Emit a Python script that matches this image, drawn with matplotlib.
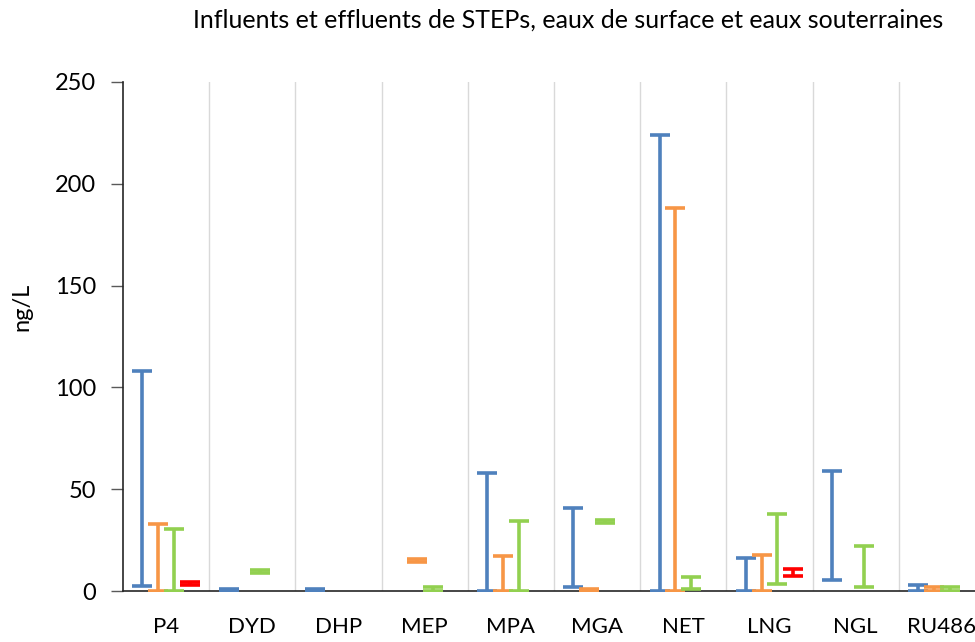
import numpy as np
import matplotlib.pyplot as plt

compounds = ['P4', 'DYD', 'DHP', 'MEP', 'MPA', 'MGA', 'NET', 'LNG', 'NGL', 'RU486']
nan = np.nan

# min / max per compound (ng/L)
infl_lo = [2.5, 0, 0, nan, 0, 1.8, 0, 0, 5.5, 0]
infl_hi = [108, 1, 1, nan, 58, 41, 224, 16, 59, 2.8]
effl_lo = [0, nan, nan, 14.2, 0, 0, 0, 0, nan, 0]
effl_hi = [33, nan, nan, 15.8, 17, 1, 188, 17.8, nan, 1.8]
surf_lo = [0, 8.8, nan, 0, 0, 33.2, 1.2, 3.3, 1.8, 0]
surf_hi = [30.5, 10.2, nan, 2, 34.2, 34.8, 7, 38, 22.3, 1.8]
gw_lo = [3, nan, nan, nan, nan, nan, nan, 7.6, nan, nan]
gw_hi = [4.2, nan, nan, nan, nan, nan, nan, 10.6, nan, nan]

series = [
    (infl_lo, infl_hi, '#4F81BD', -0.275),
    (effl_lo, effl_hi, '#F79646', -0.092),
    (surf_lo, surf_hi, '#92D050', 0.092),
    (gw_lo, gw_hi, '#FF0000', 0.275),
]

plt.rcParams['font.family'] = ['Lato', 'DejaVu Sans']
fig = plt.figure(figsize=(9.75, 6.42), dpi=100)
ax = fig.add_axes([123 / 975, 1 - 591 / 642, 862 / 975, 509 / 642])

x = np.arange(len(compounds))
for lo, hi, color, off in series:
    lo = np.array(lo, dtype=float)
    hi = np.array(hi, dtype=float)
    mid = (lo + hi) / 2
    half = (hi - lo) / 2
    ax.errorbar(x + off, mid, yerr=half, fmt='none', ecolor=color,
                elinewidth=2.6, capsize=7, capthick=2.6, zorder=3)

ax.set_xlim(-0.5, len(compounds) - 0.5)
ax.set_ylim(0, 250)
ax.set_yticks(np.arange(0, 251, 50))
ax.set_xticks(x)
ax.set_xticklabels(compounds, fontsize=16)
ax.set_xticks(np.arange(0.5, len(compounds), 1), minor=True)
ax.grid(True, which='minor', axis='x', color='#d9d9d9', linewidth=1)
ax.tick_params(axis='x', which='both', length=0, pad=19)
ax.tick_params(axis='y', labelsize=17, length=9, width=1, color='#595959', pad=10.5)
for s in ['top', 'right']:
    ax.spines[s].set_visible(False)
ax.spines['left'].set_color('#262626')
ax.spines['bottom'].set_color('#262626')
ax.spines['left'].set_linewidth(1.2)
ax.spines['bottom'].set_linewidth(1.2)

fig.text(22 / 975, 1 - 307 / 642, 'ng/L', rotation=90, ha='center', va='center', fontsize=17)
fig.text(943 / 975, 1 - 20 / 642, 'Influents et effluents de STEPs, eaux de surface et eaux souterraines',
         ha='right', va='center', fontsize=18)

fig.savefig('out.png', dpi=100)
